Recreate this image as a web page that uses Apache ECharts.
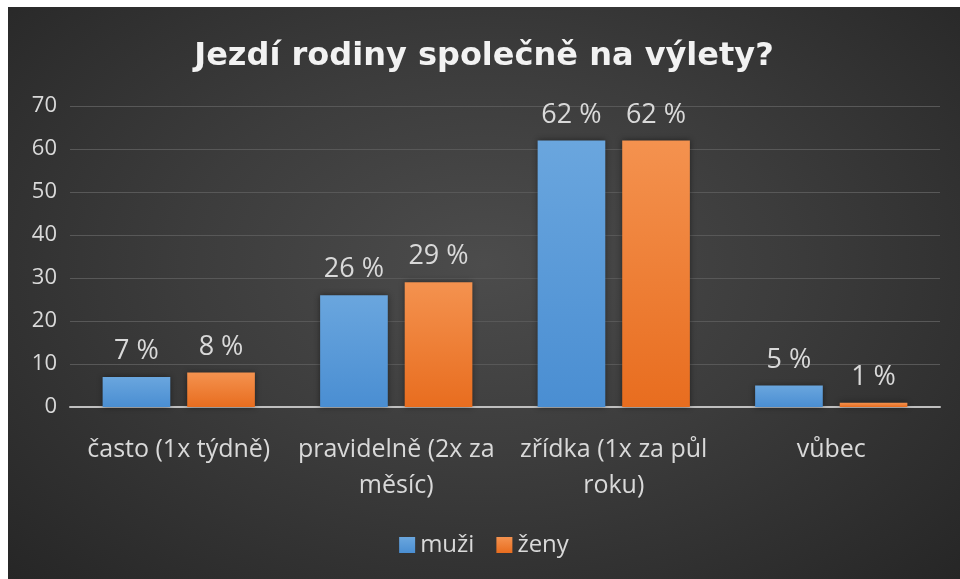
<!DOCTYPE html>
<html lang="cs">
<head>
<meta charset="UTF-8">
<title>Jezdí rodiny společně na výlety?</title>
<script src="https://cdn.jsdelivr.net/npm/echarts@6/dist/echarts.min.js"></script>
<style>
	html, body { margin: 0; padding: 0; background: #fff; }
	#chart {
		position: absolute; left: 8px; top: 7px; width: 952px; height: 572px;
		background: radial-gradient(ellipse at 50% 45%, #4c4c4c 0%, #3c3c3c 45%, #262626 100%);
	}
</style>
</head>
<body>
<div id="chart"></div>
<script>
// data
const categories = ['často (1x týdně)', 'pravidelně (2x za\nměsíc)', 'zřídka (1x za půl\nroku)', 'vůbec']
const muzi = [7, 26, 62, 5]
const zeny = [8, 29, 62, 1]
const yTicks = [0, 10, 20, 30, 40, 50, 60, 70]

const font = '"Open Sans", "Noto Sans", sans-serif'
const textColor = '#d9d9d9'

function grad(top, bottom) {
	return new echarts.graphic.LinearGradient(0, 0, 0, 1, [
		{ offset: 0, color: top },
		{ offset: 1, color: bottom }
	])
}

// popisky nad sloupci
const barLabel = {
	show: true, position: 'top', distance: 12,
	formatter: '{c} %', color: textColor, fontSize: 27, fontFamily: font
}

const chart = echarts.init(document.getElementById('chart'), null, { renderer: 'canvas' })
chart.setOption({
	backgroundColor: 'transparent',
	textStyle: { fontFamily: font },
	title: {
		text: 'Jezdí rodiny společně na výlety?',
		left: 'center',
		top: 29,
		textStyle: { color: '#f2f2f2', fontSize: 32, fontWeight: 'bold', fontFamily: '"DejaVu Sans", sans-serif' }
	},
	legend: {
		bottom: 17,
		left: 'center',
		itemWidth: 16,
		itemHeight: 16,
		itemGap: 22,
		icon: 'rect',
		textStyle: { color: textColor, fontSize: 24, fontFamily: font },
		data: ['muži', 'ženy']
	},
	grid: { left: 62, right: 20, top: 99, height: 301, containLabel: false },
	xAxis: {
		type: 'category',
		data: categories,
		axisLine: { lineStyle: { color: '#bfbfbf', width: 2 } },
		axisTick: { show: false },
		axisLabel: {
			color: textColor, fontSize: 25, fontFamily: font,
			margin: 25, lineHeight: 36, interval: 0
		}
	},
	yAxis: {
		type: 'value',
		min: yTicks[0],
		max: yTicks[yTicks.length - 1],
		interval: 10,
		axisLine: { show: false },
		axisTick: { show: false },
		axisLabel: { color: textColor, fontSize: 22, fontFamily: font, margin: 13 },
		splitLine: { lineStyle: { color: '#585858', width: 1 } }
	},
	series: [
		{
			name: 'muži',
			type: 'bar',
			data: muzi,
			barGap: '25%',
			barCategoryGap: '30%',
			itemStyle: {
				color: grad('#6aa6de', '#4a8ed2'),
				shadowBlur: 6, shadowColor: 'rgba(0,0,0,0.45)'
			},
			label: barLabel
		},
		{
			name: 'ženy',
			type: 'bar',
			data: zeny,
			itemStyle: {
				color: grad('#f4924f', '#e86d1f'),
				shadowBlur: 6, shadowColor: 'rgba(0,0,0,0.45)'
			},
			label: barLabel
		}
	]
})
</script>
</body>
</html>
